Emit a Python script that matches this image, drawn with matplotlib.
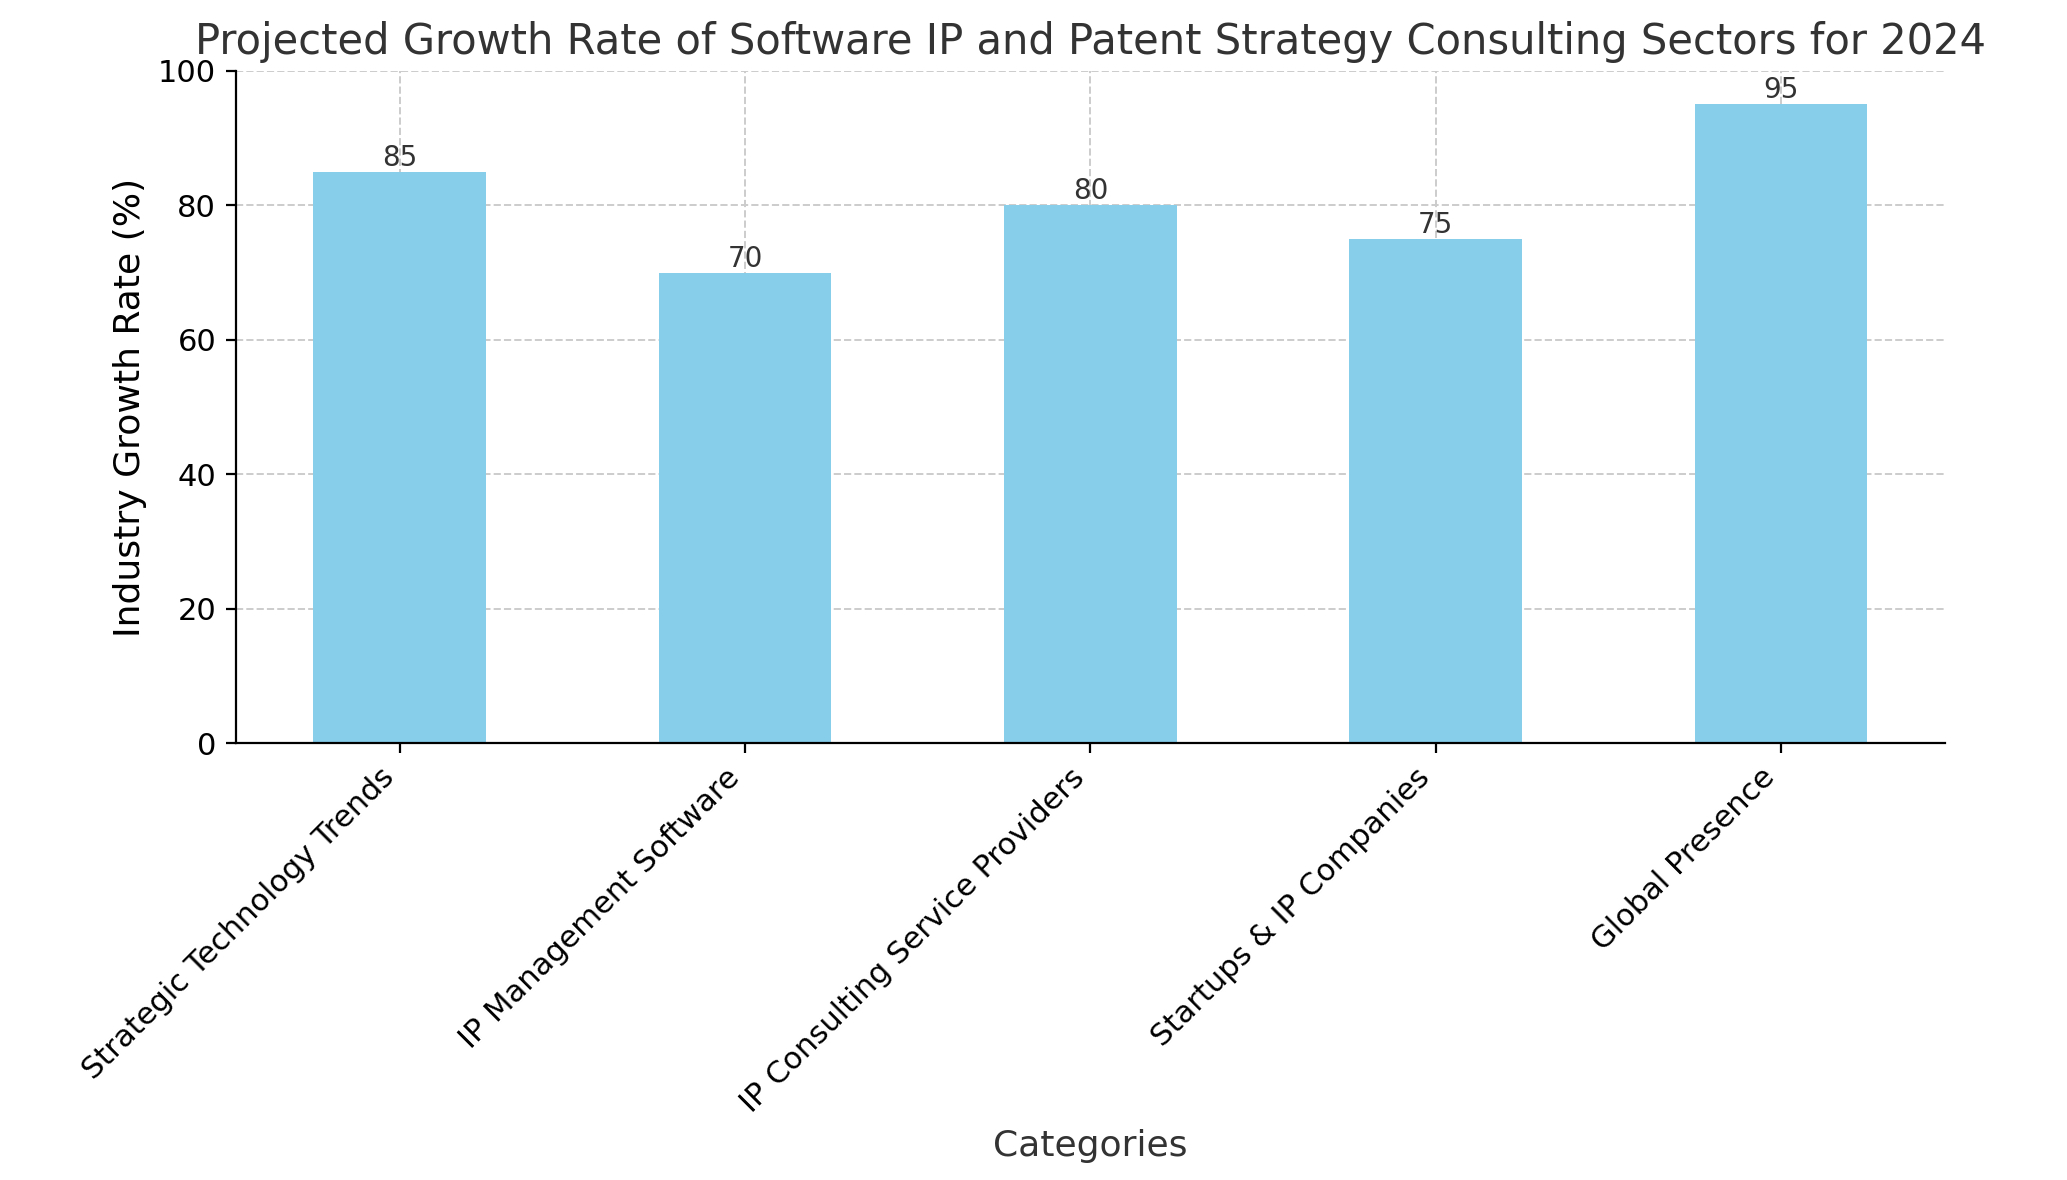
import matplotlib
matplotlib.use('Agg')
import matplotlib.pyplot as plt

categories = ['Strategic Technology Trends', 'IP Management Software',
              'IP Consulting Service Providers', 'Startups & IP Companies',
              'Global Presence']
growth = [85, 70, 80, 75, 95]

fig = plt.figure(figsize=(10.335, 5.9), dpi=200)
ax = fig.add_axes([0.114, 0.37, 0.827, 0.57])
bars = ax.bar(categories, growth, color='skyblue', width=0.5, zorder=2)
for b, v in zip(bars, growth):
    ax.text(b.get_x() + b.get_width() / 2, v, str(v), ha='center', va='bottom',
            fontsize=10, color='#333333')
ax.set_ylim(0, 100)
ax.grid(True, linestyle='--', color='#cccccc', linewidth=0.7, zorder=0)
ax.spines['top'].set_visible(False)
ax.spines['right'].set_visible(False)
ax.tick_params(labelsize=11)
plt.setp(ax.get_xticklabels(), rotation=45, ha='right')
ax.set_xlabel('Categories', fontsize=13, color='#333333')
ax.set_ylabel('Industry Growth Rate (%)', fontsize=13)
ax.set_title('Projected Growth Rate of Software IP and Patent Strategy Consulting Sectors for 2024',
             fontsize=15, color='#333333')
fig.savefig('out.png', dpi=200)
